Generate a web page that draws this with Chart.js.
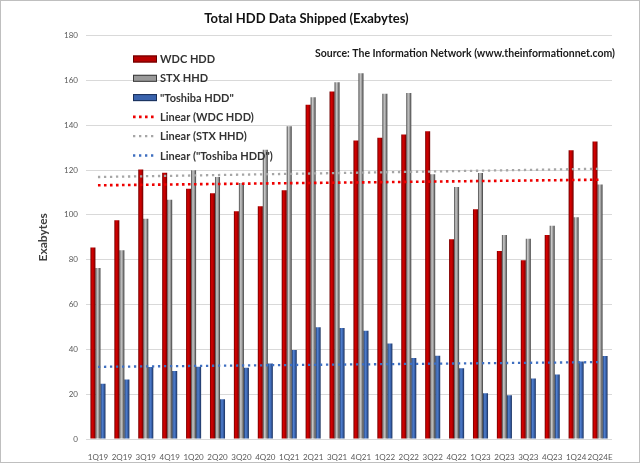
<!DOCTYPE html>
<html>
<head>
<meta charset="utf-8">
<script src="https://cdn.jsdelivr.net/npm/chart.js@4"></script>
<style>
  html, body { margin: 0; padding: 0; background: #fff; }
  #wrap { position: relative; width: 638px; height: 461px; border: 1px solid #bfbfbf; }
</style>
</head>
<body>
<div id="wrap"><canvas id="chart" width="638" height="461"></canvas></div>
<script>
// Quarters on the x axis
const quarters = ['1Q19', '2Q19', '3Q19', '4Q19', '1Q20', '2Q20', '3Q20', '4Q20', '1Q21', '2Q21', '3Q21',
  '4Q21', '1Q22', '2Q22', '3Q22', '4Q22', '1Q23', '2Q23', '3Q23', '4Q23', '1Q24', '2Q24E'];

// Exabytes shipped
const wdcHdd = [85.4, 97.6, 120.3, 118.8, 111.7, 109.6, 101.6, 103.8, 111.0, 149.1, 155.1,
  133.2, 134.4, 135.9, 137.3, 89.1, 102.5, 83.9, 79.8, 91.0, 128.8, 132.8];
const stxHhd = [76.3, 84.2, 98.3, 106.8, 119.9, 116.9, 114.2, 129.1, 139.6, 152.5, 159.2,
  163.2, 154.0, 154.4, 118.1, 112.4, 118.7, 91.0, 89.4, 95.1, 98.9, 113.6];
const toshibaHdd = [24.7, 26.6, 32.1, 30.3, 32.2, 17.7, 31.8, 33.7, 39.7, 49.9, 49.5,
  48.3, 42.6, 36.1, 37.1, 31.6, 20.4, 19.5, 27.0, 28.8, 34.6, 37.0];

// Linear trend lines (start / end values)
const wdcTrend = [113.2, 115.7];
const stxTrend = [116.9, 120.6];
const toshibaTrend = [32.2, 34.3];

const yTicks = [0, 20, 40, 60, 80, 100, 120, 140, 160, 180];

const FONT = 'Lato, "Open Sans", sans-serif';

// colour stops for the cylinder-like bar shading
const shades = {
  red: ['#6e0000', '#d60000', '#b80000', '#640000'],
  gray: ['#3f3f3f', '#c8c8c8', '#9a9a9a', '#3a3a3a'],
  blue: ['#1c335e', '#5080d0', '#3a63ad', '#1a2f58']
};

function makeGradient(ctx, x0, x1, stops) {
  let g = ctx.createLinearGradient(x0, 0, x1, 0);
  g.addColorStop(0, stops[0]);
  g.addColorStop(0.35, stops[1]);
  g.addColorStop(0.65, stops[2]);
  g.addColorStop(1, stops[3]);
  return g;
}

function trendData(values) {
  return [{ x: quarters[0], y: values[0] }, { x: quarters[quarters.length - 1], y: values[1] }];
}

// Give each bar its own horizontal gradient
const barShading = {
  id: 'barShading',
  beforeDatasetDraw(chart, args) {
    const ds = chart.data.datasets[args.index];
    if (!ds.shade) return;
    const ctx = chart.ctx;
    args.meta.data.forEach(function (bar) {
      const w = bar.width;
      bar.options = Object.assign({}, bar.options, {
        backgroundColor: makeGradient(ctx, bar.x - w / 2, bar.x + w / 2, shades[ds.shade])
      });
    });
  }
};

// Legend inside the plot + source note
const extras = {
  id: 'extras',
  afterDraw(chart) {
    const ctx = chart.ctx;
    ctx.save();
    ctx.font = 'bold 10.5px ' + FONT;
    ctx.fillStyle = '#1a1a1a';
    ctx.textAlign = 'right';
    ctx.textBaseline = 'middle';
    ctx.fillText('Source: The Information Network (www.theinformationnet.com)', 614, 53);

    let x = 132, y = 58, step = 19.3;
    ctx.textAlign = 'left';
    ctx.font = 'bold 11px ' + FONT;
    chart.data.datasets.forEach(function (ds, i) {
      let cy = y + i * step;
      if (ds.shade) {
        ctx.fillStyle = shades[ds.shade][2];
        ctx.fillRect(x, cy - 3.5, 24, 7);
        ctx.strokeStyle = shades[ds.shade][3];
        ctx.lineWidth = 1;
        ctx.strokeRect(x + 0.5, cy - 3, 23, 6);
      } else {
        ctx.strokeStyle = ds.borderColor;
        ctx.lineWidth = ds.borderWidth;
        ctx.setLineDash(ds.borderDash);
        ctx.beginPath();
        ctx.moveTo(x, cy);
        ctx.lineTo(x + 24, cy);
        ctx.stroke();
        ctx.setLineDash([]);
      }
      ctx.fillStyle = '#333333';
      ctx.fillText(ds.label, x + 27, cy + 0.5);
    });
    ctx.restore();
  }
};

const ctx = document.getElementById('chart').getContext('2d');
new Chart(ctx, {
  type: 'bar',
  data: {
    labels: quarters,
    datasets: [
      { label: 'WDC HDD', data: wdcHdd, shade: 'red', backgroundColor: '#c00000', order: 2 },
      { label: 'STX HHD', data: stxHhd, shade: 'gray', backgroundColor: '#9a9a9a', order: 2 },
      { label: '"Toshiba HDD"', data: toshibaHdd, shade: 'blue', backgroundColor: '#3a63ad', order: 2 },
      { type: 'line', label: 'Linear (WDC HDD)', data: trendData(wdcTrend), borderColor: '#ee0000',
        borderWidth: 2.6, borderDash: [2.6, 3.4], pointRadius: 0, order: 1 },
      { type: 'line', label: 'Linear (STX HHD)', data: trendData(stxTrend), borderColor: '#a6a6a6',
        borderWidth: 2.3, borderDash: [2.3, 3.7], pointRadius: 0, order: 1 },
      { type: 'line', label: 'Linear ("Toshiba HDD")', data: trendData(toshibaTrend), borderColor: '#3f6fc0',
        borderWidth: 2.3, borderDash: [2.3, 3.7], pointRadius: 0, order: 1 }
    ]
  },
  options: {
    responsive: false,
    animation: false,
    layout: { padding: { top: 0, right: 27, bottom: 0, left: 0 } },
    datasets: {
      bar: { categoryPercentage: 0.63, barPercentage: 1 }
    },
    plugins: {
      legend: { display: false },
      tooltip: { enabled: false },
      title: {
        display: true,
        text: 'Total HDD Data Shipped (Exabytes)',
        color: '#111111',
        font: { family: FONT, size: 13, weight: 'bold' },
        padding: { top: 10, bottom: 9 }
      }
    },
    scales: {
      x: {
        grid: { display: false },
        border: { display: false },
        ticks: { color: '#595959', font: { family: FONT, size: 8 }, padding: 6, maxRotation: 0, autoSkip: false },
        afterFit(scale) { scale.height = 23; }
      },
      y: {
        min: 0,
        max: 180,
        afterBuildTicks(scale) { scale.ticks = yTicks.map(function (v) { return { value: v }; }); },
        grid: { color: '#d9d9d9', drawTicks: false },
        border: { display: false },
        ticks: { color: '#595959', font: { family: FONT, size: 8 }, padding: 8 },
        title: {
          display: true,
          text: 'Exabytes',
          color: '#404040',
          font: { family: FONT, size: 12, weight: 'bold' },
          padding: { top: 35, bottom: 0 }
        },
        afterFit(scale) { scale.width = 85; }
      }
    }
  },
  plugins: [barShading, extras]
});
</script>
</body>
</html>
